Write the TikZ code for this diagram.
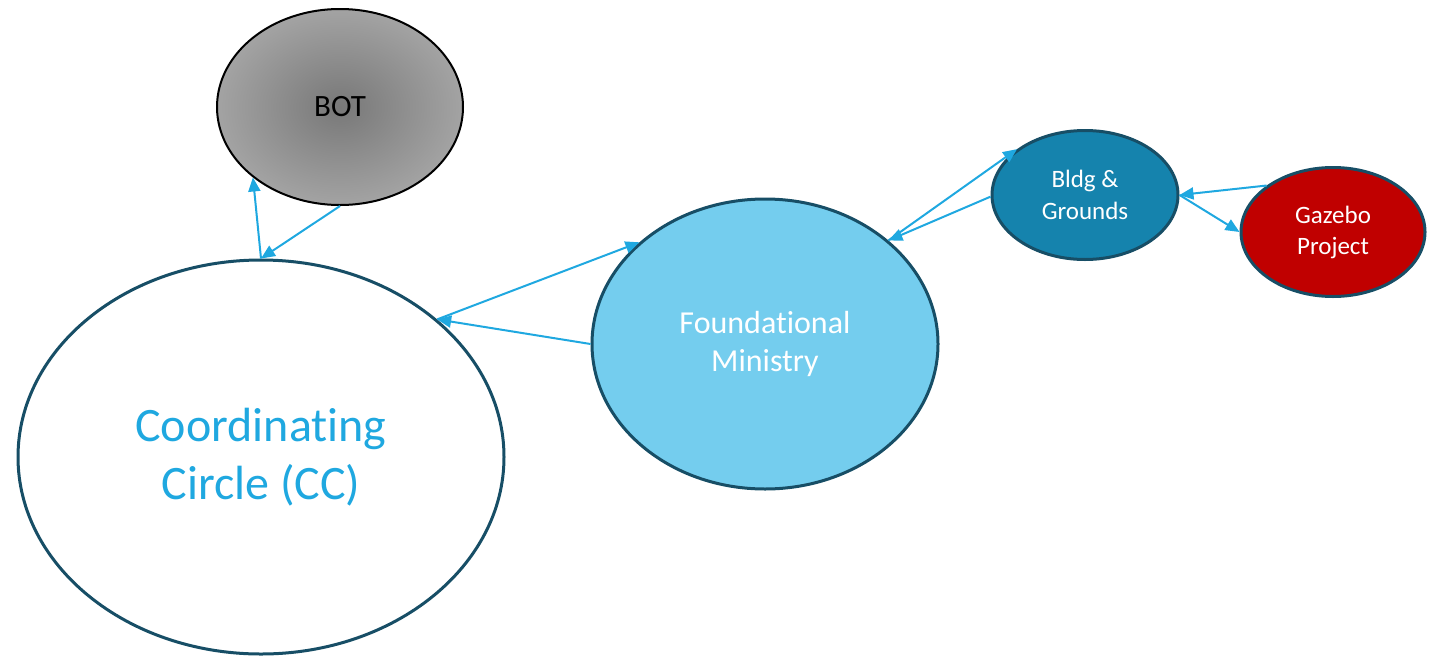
\documentclass[tikz,border=0pt]{standalone}
\usepackage{fontspec}
\setmainfont{Carlito}[Ligatures=NoCommon,RawFeature=-liga]
\usetikzlibrary{shapes.geometric,arrows.meta}
\definecolor{edgeteal}{HTML}{174E66}
\definecolor{linkblue}{HTML}{1FA8E0}
\definecolor{fmfill}{HTML}{74CDEE}
\definecolor{bgfill}{HTML}{1583AD}
\definecolor{gzfill}{HTML}{C00000}
\begin{document}
\begin{tikzpicture}[x=1pt,y=-1pt,
  blob/.style={ellipse,draw=edgeteal,line width=3pt,inner sep=0pt,align=center},
  link/.style={draw=linkblue,line width=2pt,-{Triangle[length=14pt,width=12pt]}}]
\useasboundingbox (0,0) rectangle (1437,656);
\node[ellipse,draw=black,line width=2pt,minimum width=246pt,minimum height=196pt,inner sep=0pt,
  shading=radial,inner color=black!53,outer color=black!36,
  font=\fontsize{31}{37}\selectfont] (bot) at (340,107) {BOT};
\node[blob,fill=white,minimum width=486pt,minimum height=394pt,text=linkblue,
  font=\fontsize{48}{58}\selectfont] (cc) at (261,457) {Coordinating\\Circle (CC)};
\node[blob,fill=fmfill,minimum width=346pt,minimum height=290pt,text=white,
  font=\fontsize{32}{38}\selectfont] (fm) at (765,344) {Foundational\\Ministry};
\node[blob,fill=bgfill,minimum width=186pt,minimum height=129pt,text=white,
  font=\fontsize{25}{32}\selectfont] (bg) at (1085,195) {Bldg \&\\Grounds};
\node[blob,fill=gzfill,minimum width=184pt,minimum height=129pt,text=white,
  font=\fontsize{25}{31}\selectfont] (gz) at (1333,232) {Gazebo\\Project};
\draw[link] (cc.90) -- (bot.219.7);
\draw[link] (bot.270) -- (cc.90);
\draw[link] (cc.38.9) -- (fm.141.3);
\draw[link] (fm.180) -- (cc.38.9);
\draw[link] (fm.40) -- (bg.146.7);
\draw[link] (bg.181) -- (fm.40);
\draw[link] (bg.0) -- (gz.180);
\draw[link] (gz.145.3) -- (bg.0);
\end{tikzpicture}
\end{document}
